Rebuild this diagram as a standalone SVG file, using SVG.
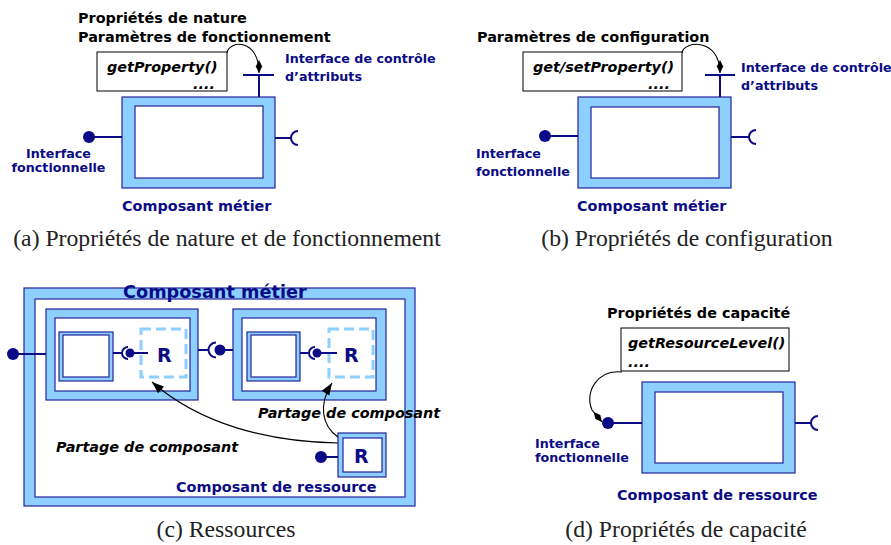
<svg xmlns="http://www.w3.org/2000/svg" width="891" height="545" viewBox="0 0 891 545">
  <style>
    .lb { fill: #8dcfff; stroke: #24249c; stroke-width: 1.2; }
    .wh { fill: #ffffff; stroke: #24249c; stroke-width: 1.2; }
    .note { fill: #ffffff; stroke: #000000; stroke-width: 1; }
    .wire { fill: none; stroke: #0b0b86; stroke-width: 2; }
    .dot { fill: #0b0b86; }
    .dash { fill: none; stroke: #8dcfff; stroke-width: 3; stroke-dasharray: 10 5; }
    .link { fill: none; stroke: #000000; stroke-width: 1.1; }
    .hd { font-family: "DejaVu Sans", sans-serif; font-weight: bold; font-size: 14.4px; fill: #000000; }
    .it { font-family: "DejaVu Sans", sans-serif; font-weight: bold; font-style: italic; font-size: 14.4px; fill: #000000; }
    .nv { font-family: "DejaVu Sans", sans-serif; font-weight: bold; font-size: 14.4px; fill: #0b0b86; }
    .sm { font-family: "DejaVu Sans", sans-serif; font-weight: bold; font-size: 12.7px; fill: #0b0b86; }
    .big { font-family: "DejaVu Sans", sans-serif; font-weight: bold; font-size: 17.7px; fill: #0b0b86; }
    .r { font-family: "DejaVu Sans", sans-serif; font-weight: bold; font-size: 19px; fill: #0b0b86; }
    .cap { font-family: "Liberation Serif", serif; font-size: 23.7px; fill: #222222; text-anchor: middle; }
  </style>
  <defs>
    <marker id="diamond" viewBox="-14 -4 15 8" markerWidth="15" markerHeight="8" refX="0" refY="0" markerUnits="userSpaceOnUse" orient="auto">
      <path d="M0,0 L-6.5,-3.2 L-13,0 L-6.5,3.2 Z" fill="#000000"/>
    </marker>
    <marker id="arrow" viewBox="-13 -5 14 10" markerWidth="14" markerHeight="10" refX="0" refY="0" markerUnits="userSpaceOnUse" orient="auto">
      <path d="M0,0 L-12,-4.5 L-12,4.5 Z" fill="#000000"/>
    </marker>
  </defs>

  <!-- (a) nature and operating properties -->
  <g id="a-labels">
    <text class="hd" x="78" y="23">Propriétés de nature</text>
    <text class="hd" x="78" y="42">Paramètres de fonctionnement</text>
  </g>
  <g id="a-note">
    <rect class="note" x="97" y="52" width="130" height="39"/>
    <text class="it" x="107" y="71.5">getProperty()</text>
    <text class="it" x="193" y="88.5">....</text>
  </g>
  <g id="a-component">
    <rect class="lb" x="122" y="97" width="153" height="91"/>
    <rect class="wh" x="135" y="106" width="128" height="72"/>
    <text class="nv" x="122" y="211">Composant métier</text>
  </g>
  <g id="a-attr-iface">
    <line class="wire" x1="259" y1="97" x2="259" y2="75"/>
    <line class="wire" x1="243" y1="75" x2="274" y2="75"/>
    <text class="sm" x="285" y="63">Interface de contrôle</text>
    <text class="sm" x="285" y="81">d’attributs</text>
  </g>
  <g id="a-func-iface">
    <line class="wire" x1="89" y1="137" x2="122" y2="137"/>
    <circle class="dot" cx="89" cy="137" r="6"/>
    <text class="sm" x="58.5" y="158" text-anchor="middle">Interface</text>
    <text class="sm" x="58.5" y="172" text-anchor="middle">fonctionnelle</text>
  </g>
  <g id="a-required">
    <line class="wire" x1="275" y1="138" x2="291" y2="138"/>
    <path class="wire" d="M298,131 A7,7 0 0 0 298,145"/>
  </g>

  <!-- (b) configuration properties -->
  <g id="b-labels">
    <text class="hd" x="477" y="42">Paramètres de configuration</text>
  </g>
  <g id="b-note">
    <rect class="note" x="523" y="52" width="159" height="39"/>
    <text class="it" x="533" y="71.5">get/setProperty()</text>
    <text class="it" x="648" y="88.5">....</text>
  </g>
  <g id="b-component">
    <rect class="lb" x="578" y="97" width="153" height="91"/>
    <rect class="wh" x="591" y="107" width="128" height="71"/>
    <text class="nv" x="577" y="211">Composant métier</text>
  </g>
  <g id="b-attr-iface">
    <line class="wire" x1="720" y1="97" x2="720" y2="75"/>
    <line class="wire" x1="705" y1="75" x2="735" y2="75"/>
    <text class="sm" x="741" y="72">Interface de contrôle</text>
    <text class="sm" x="741" y="90">d’attributs</text>
  </g>
  <g id="b-func-iface">
    <line class="wire" x1="545" y1="136" x2="578" y2="136"/>
    <circle class="dot" cx="545" cy="136" r="6"/>
    <text class="sm" x="476" y="158">Interface</text>
    <text class="sm" x="476" y="176">fonctionnelle</text>
  </g>
  <g id="b-required">
    <line class="wire" x1="731" y1="137" x2="749" y2="137"/>
    <path class="wire" d="M756,130 A7,7 0 0 0 756,144"/>
  </g>

  <!-- (c) resources -->
  <g id="c-business">
    <rect class="lb" x="24" y="288" width="391" height="218"/>
    <rect class="wh" x="35" y="299" width="370" height="198"/>
  </g>
  <g id="c-sub-left">
    <rect class="lb" x="46" y="309" width="152" height="91"/>
    <rect class="wh" x="55" y="318" width="135" height="73"/>
    <rect class="lb" x="59" y="332" width="54" height="49"/>
    <rect class="wh" x="63" y="335" width="46" height="42"/>
    <rect class="dash" x="141" y="329" width="45" height="48"/>
    <line class="wire" x1="113" y1="353" x2="122" y2="353"/>
    <path class="wire" d="M128,347 A6,6 0 0 0 128,359"/>
    <line class="wire" x1="130" y1="353" x2="148" y2="353"/>
    <circle class="dot" cx="130" cy="353" r="4.5"/>
    <text class="r" x="157" y="362">R</text>
  </g>
  <g id="c-sub-right">
    <rect class="lb" x="233" y="309" width="153" height="91"/>
    <rect class="wh" x="242" y="318" width="134" height="73"/>
    <rect class="lb" x="247" y="332" width="53" height="49"/>
    <rect class="wh" x="251" y="335" width="45" height="42"/>
    <rect class="dash" x="329" y="329" width="44" height="48"/>
    <line class="wire" x1="300" y1="353" x2="309" y2="353"/>
    <path class="wire" d="M315,347 A6,6 0 0 0 315,359"/>
    <line class="wire" x1="317" y1="353" x2="337" y2="353"/>
    <circle class="dot" cx="317" cy="353" r="4.5"/>
    <text class="r" x="344" y="362">R</text>
  </g>
  <g id="c-resource">
    <rect class="lb" x="338" y="433" width="48" height="44"/>
    <rect class="wh" x="343" y="438" width="39" height="34"/>
    <text class="r" x="354" y="463">R</text>
    <line class="wire" x1="321" y1="457" x2="338" y2="457"/>
    <circle class="dot" cx="321" cy="457" r="6"/>
  </g>
  <g id="c-outer-iface">
    <line class="wire" x1="13" y1="354" x2="46" y2="354"/>
    <circle class="dot" cx="13" cy="354" r="6"/>
  </g>
  <g id="c-binding">
    <line class="wire" x1="198" y1="350" x2="209" y2="350"/>
    <path class="wire" d="M216,342.5 A7.5,7.5 0 0 0 216,357.5"/>
    <line class="wire" x1="220" y1="350" x2="233" y2="350"/>
    <circle class="dot" cx="220" cy="350" r="5.5"/>
  </g>
  <g id="c-labels">
    <text class="big" x="123" y="298">Composant métier</text>
    <text class="it" x="258" y="418">Partage de composant</text>
    <text class="it" x="56" y="452">Partage de composant</text>
    <text class="nv" x="176" y="492">Composant de ressource</text>
  </g>

  <!-- (d) capacity properties -->
  <g id="d-labels">
    <text class="hd" x="607" y="318">Propriétés de capacité</text>
  </g>
  <g id="d-note">
    <rect class="note" x="621" y="328" width="168" height="43"/>
    <text class="it" x="628" y="348">getResourceLevel()</text>
    <text class="it" x="628" y="367">....</text>
  </g>
  <g id="d-component">
    <rect class="lb" x="642" y="382" width="153" height="91"/>
    <rect class="wh" x="655" y="392" width="128" height="71"/>
    <text class="nv" x="617" y="500">Composant de ressource</text>
  </g>
  <g id="d-func-iface">
    <line class="wire" x1="608" y1="423" x2="642" y2="423"/>
    <circle class="dot" cx="608" cy="423" r="6"/>
    <text class="sm" x="535" y="448">Interface</text>
    <text class="sm" x="535" y="462">fonctionnelle</text>
  </g>
  <g id="d-required">
    <line class="wire" x1="795" y1="423" x2="811" y2="423"/>
    <path class="wire" d="M818,416 A7,7 0 0 0 818,430"/>
  </g>

  <!-- connectors -->
  <g id="connectors">
    <path class="link" d="M227,53 C229,40 259,38 259,73" marker-end="url(#diamond)"/>
    <path class="link" d="M682,53 C684,40 720,38 720,73" marker-end="url(#diamond)"/>
    <path class="link" d="M622,372 C598,369 584,392 592,410 L602,422" marker-end="url(#diamond)"/>
    <path class="link" d="M338,443 C268,442 200,424 152,382" marker-end="url(#arrow)"/>
    <path class="link" d="M338,437 C322,426 318,405 332,383" marker-end="url(#arrow)"/>
  </g>

  <!-- captions -->
  <g id="captions">
    <text class="cap" x="227" y="246">(a) Propriétés de nature et de fonctionnement</text>
    <text class="cap" x="687" y="246">(b) Propriétés de configuration</text>
    <text class="cap" x="226" y="537">(c) Ressources</text>
    <text class="cap" x="686" y="537">(d) Propriétés de capacité</text>
  </g>
</svg>
